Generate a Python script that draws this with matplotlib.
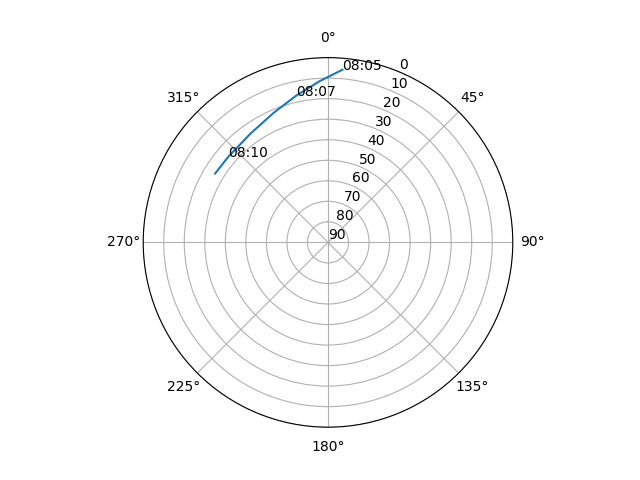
import numpy as np
import matplotlib
matplotlib.use("Agg")
import matplotlib.pyplot as plt

times = ["08:05", "08:06", "08:07", "08:08", "08:09", "08:10", "08:11"]
azimuth = [4.8, 357.0, 347.7, 337.2, 324.8, 310.8, 301.4]
elevation = [5.6, 11.4, 16.9, 21.6, 24.9, 26.0, 25.6]
labelled = ["08:05", "08:07", "08:10"]


def main():
    fig = plt.figure(figsize=(6.4, 4.8), dpi=100)
    ax = fig.add_subplot(111, projection="polar")
    ax.set_theta_zero_location("N")
    ax.set_theta_direction(-1)

    theta = np.unwrap(np.radians(azimuth))
    ax.plot(theta, elevation)

    for t, th, el in zip(times, theta, elevation):
        if t in labelled:
            ax.text(th, el, t)

    ax.set_yticks(range(0, 91, 10))
    ax.set_ylim(90, 0)

    fig.savefig("out.png")
    plt.close(fig)


if __name__ == "__main__":
    main()
